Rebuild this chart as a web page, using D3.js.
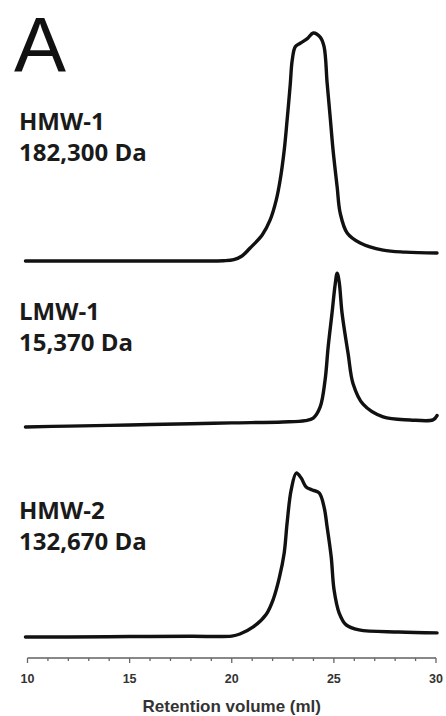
<!DOCTYPE html>
<html>
<head>
<meta charset="utf-8">
<script src="https://cdn.jsdelivr.net/npm/d3@7"></script>
<style>
  html, body { margin: 0; padding: 0; background: #fff; }
  svg { display: block; }
</style>
</head>
<body>
<svg id="chart" width="446" height="716"></svg>
<script>
// ---- data ----
const panelLetter = "A";
const sampleNames = ["HMW-1", "LMW-1", "HMW-2"];
const sampleMasses = ["182,300 Da", "15,370 Da", "132,670 Da"];
const xTicksMajor = [10, 15, 20, 25, 30];
const xTicksMinor = d3.range(10, 31, 1);
const xAxisTitle = "Retention volume (ml)";

// retention volume (ml) and relative absorbance for each trace
const hmw1Vol = [9.9, 12, 15, 18, 19.6, 20.1, 20.5, 20.9, 21.49, 21.88, 22.18, 22.37, 22.57, 22.71, 22.86, 22.96, 23.11, 23.35, 23.7, 23.99, 24.33, 24.52, 24.67, 24.82, 24.96, 25.16, 25.31, 25.65, 26.29, 27.41, 28.5, 30.05];
const hmw1Abs = [0, 0, 0, 0, 0.001, 0.006, 0.022, 0.057, 0.114, 0.18, 0.268, 0.355, 0.487, 0.618, 0.77, 0.88, 0.94, 0.955, 0.975, 1.0, 0.982, 0.94, 0.78, 0.63, 0.487, 0.325, 0.21, 0.123, 0.079, 0.048, 0.039, 0.035];

const lmw1Vol = [9.9, 12, 15, 18, 20, 22.5, 23.6, 23.99, 24.33, 24.57, 24.72, 24.91, 25.06, 25.16, 25.26, 25.40, 25.70, 25.94, 26.43, 27.41, 28.73, 29.85, 30.05];
const lmw1Abs = [0, 0.004, 0.009, 0.014, 0.018, 0.022, 0.028, 0.039, 0.088, 0.206, 0.351, 0.50, 0.623, 0.675, 0.636, 0.50, 0.32, 0.19, 0.1, 0.044, 0.031, 0.031, 0.05];

const hmw2Vol = [9.9, 12, 15, 18, 20.0, 20.4, 21.05, 21.69, 22.05, 22.33, 22.57, 22.71, 22.91, 23.16, 23.40, 23.64, 23.94, 24.28, 24.52, 24.67, 24.87, 25.01, 25.26, 25.60, 26.23, 28.19, 30.05];
const hmw2Abs = [0, 0, 0.002, 0.003, 0.004, 0.013, 0.044, 0.1, 0.17, 0.26, 0.37, 0.50, 0.645, 0.719, 0.697, 0.658, 0.645, 0.632, 0.57, 0.482, 0.351, 0.206, 0.105, 0.053, 0.031, 0.022, 0.018];

// ---- layout ----
const svg = d3.select("#chart");
const x = d3.scaleLinear().domain([10, 30]).range([27.5, 436]);
const panelBase = [261, 427, 637];      // pixel row of zero signal per panel
const panelHeight = 228;                // pixels for relative absorbance 1.0
const labelBase = [130, 320, 519];
const traces = [
  { vol: hmw1Vol, abs: hmw1Abs },
  { vol: lmw1Vol, abs: lmw1Abs },
  { vol: hmw2Vol, abs: hmw2Abs }
];

// panel letter
svg.append("text")
  .attr("x", 14).attr("y", 72)
  .attr("font-family", "Liberation Sans, Arial, sans-serif")
  .attr("font-size", 78)
  .attr("font-weight", 400)
  .attr("fill", "#111")
  .text(panelLetter);

traces.forEach((t, i) => {
  const y = d3.scaleLinear().domain([0, 1]).range([panelBase[i], panelBase[i] - panelHeight]);
  const line = d3.line()
    .x((d, k) => x(t.vol[k]))
    .y((d, k) => y(t.abs[k]))
    .curve(d3.curveCatmullRom.alpha(0.5));
  svg.append("path")
    .datum(t.vol)
    .attr("d", line)
    .attr("fill", "none")
    .attr("stroke", "#111")
    .attr("stroke-width", 3.4)
    .attr("stroke-linejoin", "round")
    .attr("stroke-linecap", "round");

  const lab = svg.append("text")
    .attr("font-family", "Open Sans, sans-serif")
    .attr("font-weight", 700)
    .attr("font-size", 24)
    .attr("fill", "#1a1a1a");
  lab.append("tspan").attr("x", 19).attr("y", labelBase[i]).text(sampleNames[i]);
  lab.append("tspan").attr("x", 19).attr("y", labelBase[i] + 31).text(sampleMasses[i]);
});

// x axis
const axisY = 658;
const axisG = svg.append("g").attr("transform", `translate(0,${axisY})`);
axisG.append("line")
  .attr("x1", x(10)).attr("x2", x(30))
  .attr("y1", 0).attr("y2", 0)
  .attr("stroke", "#888").attr("stroke-width", 2);
axisG.selectAll("line.minor")
  .data(xTicksMinor)
  .join("line")
  .attr("class", "minor")
  .attr("x1", d => x(d)).attr("x2", d => x(d))
  .attr("y1", 0).attr("y2", d => xTicksMajor.includes(d) ? 5 : 3)
  .attr("stroke", "#666").attr("stroke-width", 1.3);
axisG.selectAll("text.tick")
  .data(xTicksMajor)
  .join("text")
  .attr("class", "tick")
  .attr("x", d => x(d))
  .attr("y", 25)
  .attr("text-anchor", "middle")
  .attr("font-family", "Liberation Sans, Arial, sans-serif")
  .attr("font-weight", 700)
  .attr("font-size", 12.5)
  .attr("fill", "#333")
  .text(d => d);

svg.append("text")
  .attr("x", x(20))
  .attr("y", 712)
  .attr("text-anchor", "middle")
  .attr("font-family", "Liberation Sans, Arial, sans-serif")
  .attr("font-weight", 700)
  .attr("font-size", 17)
  .attr("fill", "#333")
  .text(xAxisTitle);
</script>
</body>
</html>
